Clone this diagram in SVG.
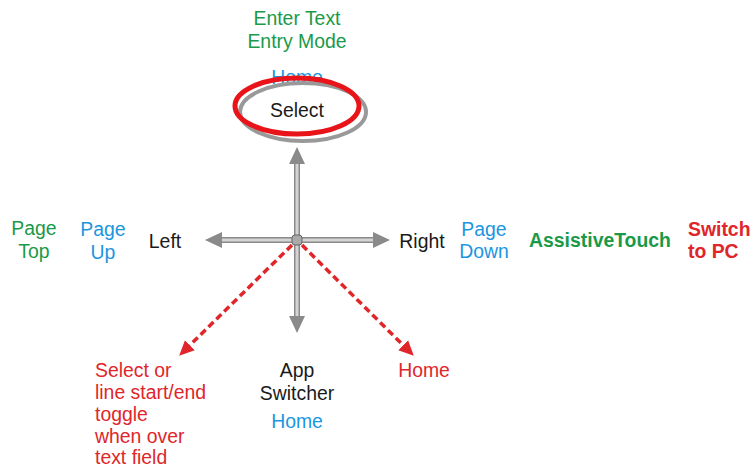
<svg xmlns="http://www.w3.org/2000/svg" width="753" height="467" viewBox="0 0 753 467">
<style>
text{font-family:"Liberation Sans",Arial,sans-serif;font-size:19.4px}
.g{fill:#1a9a48}.b{fill:#1b96df}.r{fill:#e0262a}.k{fill:#1a1a1a}
.c{text-anchor:middle}
.bold{font-weight:bold}
.head{fill:#8a8a8a}
.dash{stroke:#e0262a;stroke-width:3.5;stroke-dasharray:7 4;fill:none}
</style>
<defs>
<linearGradient id="hg" x1="0" y1="0" x2="0" y2="1">
<stop offset="0" stop-color="#777"/><stop offset="0.5" stop-color="#e6e6e6"/><stop offset="1" stop-color="#777"/>
</linearGradient>
<linearGradient id="vg" x1="0" y1="0" x2="1" y2="0">
<stop offset="0" stop-color="#777"/><stop offset="0.5" stop-color="#e6e6e6"/><stop offset="1" stop-color="#777"/>
</linearGradient>
<marker id="ra" markerWidth="16" markerHeight="16" refX="4" refY="8" orient="auto" markerUnits="userSpaceOnUse">
<path d="M0,1 L15,8 L0,15 Z" fill="#e0262a"/>
</marker>
</defs>
<g id="connectors">
<rect x="220" y="237" width="155" height="6" fill="url(#hg)"/>
<rect x="294" y="163" width="6" height="154" fill="url(#vg)"/>
<path class="head" d="M205,240 L222,232 L222,248 Z"/>
<path class="head" d="M390,240 L373,232 L373,248 Z"/>
<path class="head" d="M297,147 L289,164 L305,164 Z"/>
<path class="head" d="M297,333 L289,316 L305,316 Z"/>
<rect x="292" y="235" width="10" height="10" rx="3" fill="#aaa" stroke="#666" stroke-width="1"/>
<line class="dash" x1="292" y1="245" x2="187" y2="348" marker-end="url(#ra)"/>
<line class="dash" x1="302" y1="245" x2="406" y2="348" marker-end="url(#ra)"/>
</g>
<g id="top-label">
<text class="g c" x="297" y="25">Enter Text</text>
<text class="g c" x="297" y="48">Entry Mode</text>
</g>
<g id="select">
<text class="b c" x="297" y="84">Home</text>
<ellipse cx="303" cy="112" rx="63" ry="29" fill="none" stroke="#999" stroke-width="4"/>
<ellipse cx="297" cy="106" rx="62" ry="28" fill="none" stroke="#e8141a" stroke-width="5"/>
<text class="k c" x="297" y="117">Select</text>
</g>
<g id="left">
<text class="k c" x="165" y="248">Left</text>
<text class="b c" x="103" y="236">Page</text>
<text class="b c" x="103" y="259">Up</text>
<text class="g c" x="34" y="235">Page</text>
<text class="g c" x="34" y="258">Top</text>
</g>
<g id="right">
<text class="k c" x="422" y="248">Right</text>
<text class="b c" x="484" y="236">Page</text>
<text class="b c" x="484" y="258">Down</text>
<text class="g c bold" x="600" y="247">AssistiveTouch</text>
<text class="r bold" x="688" y="236">Switch</text>
<text class="r bold" x="688" y="258">to PC</text>
</g>
<g id="down">
<text class="k c" x="297" y="377">App</text>
<text class="k c" x="297" y="400">Switcher</text>
<text class="b c" x="297" y="428">Home</text>
</g>
<g id="down-left">
<text class="r" x="95" y="377">Select or</text>
<text class="r" x="95" y="399">line start/end</text>
<text class="r" x="95" y="421">toggle</text>
<text class="r" x="95" y="443">when over</text>
<text class="r" x="95" y="464">text field</text>
</g>
<g id="down-right">
<text class="r c" x="424" y="377">Home</text>
</g>
</svg>
